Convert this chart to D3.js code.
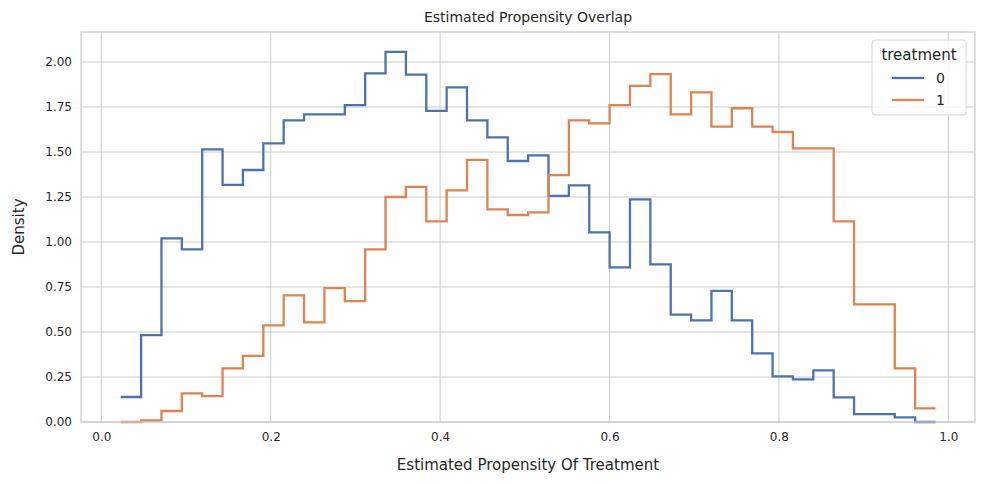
<!DOCTYPE html>
<html>
<head>
<meta charset="utf-8">
<script src="https://cdn.jsdelivr.net/npm/d3@7"></script>
<style>
  body { margin: 0; background: #fff; }
  text { font-family: "DejaVu Sans", sans-serif; fill: #262626; }
</style>
</head>
<body>
<div id="container"></div>
<script>
// histogram bins (shared edges)
var binStart = 0.0229, binWidth = 0.02405;
var density0 = [0.139, 0.483, 1.020, 0.959, 1.515, 1.317, 1.400, 1.548, 1.676, 1.709,
  1.709, 1.761, 1.937, 2.056, 1.930, 1.728, 1.859, 1.676, 1.581, 1.450,
  1.481, 1.256, 1.315, 1.054, 0.859, 1.237, 0.876, 0.596, 0.565, 0.728,
  0.565, 0.381, 0.254, 0.237, 0.287, 0.137, 0.044, 0.044, 0.026, 0];
var density1 = [0, 0.009, 0.061, 0.159, 0.144, 0.298, 0.367, 0.537, 0.704, 0.554,
  0.744, 0.672, 0.959, 1.250, 1.306, 1.115, 1.287, 1.456, 1.181, 1.150,
  1.165, 1.372, 1.676, 1.659, 1.761, 1.867, 1.933, 1.709, 1.831, 1.641,
  1.743, 1.641, 1.611, 1.520, 1.520, 1.115, 0.654, 0.654, 0.298, 0.076];
var groups = ["0", "1"];
var colors = ["#4c72b0", "#dd8452"];
var xTicks = [0, 0.2, 0.4, 0.6, 0.8, 1.0];
var yTicks = [0, 0.25, 0.5, 0.75, 1.0, 1.25, 1.5, 1.75, 2.0];

var margin = { top: 32, right: 9, bottom: 62, left: 81 };
var W = 984, H = 484;
var width = W - margin.left - margin.right, height = H - margin.top - margin.bottom;

var x = d3.scaleLinear().domain([-0.024, 1.0315]).range([0, width]);
var y = d3.scaleLinear().domain([0, 2.1667]).range([height, 0]);

var svg = d3.select("#container").append("svg").attr("width", W).attr("height", H);
var g = svg.append("g").attr("transform", "translate(" + margin.left + "," + margin.top + ")");

// grid
g.selectAll(".gx").data(xTicks).enter().append("line")
  .attr("x1", d => x(d)).attr("x2", d => x(d)).attr("y1", 0).attr("y2", height)
  .attr("stroke", "#cccccc").attr("stroke-width", 1);
g.selectAll(".gy").data(yTicks).enter().append("line")
  .attr("y1", d => y(d)).attr("y2", d => y(d)).attr("x1", 0).attr("x2", width)
  .attr("stroke", "#cccccc").attr("stroke-width", 1);

// axes labels
var xa = g.append("g").attr("transform", "translate(0," + height + ")")
  .call(d3.axisBottom(x).tickValues(xTicks).tickFormat(d3.format(".1f")).tickSize(0).tickPadding(10));
var ya = g.append("g")
  .call(d3.axisLeft(y).tickValues(yTicks).tickFormat(d3.format(".2f")).tickSize(0).tickPadding(9));
[xa, ya].forEach(a => {
  a.select(".domain").remove();
  a.selectAll("text").style("font-size", "12px").style("fill", "#262626")
    .style("font-family", "DejaVu Sans, sans-serif");
});

// step lines
var line = d3.line().x(d => x(d[0])).y(d => y(d[1])).curve(d3.curveStepAfter);
[density0, density1].forEach(function (vals, i) {
  var pts = vals.map((v, k) => [binStart + k * binWidth, v]);
  pts.push([binStart + vals.length * binWidth, vals[vals.length - 1]]);
  g.append("path").datum(pts).attr("d", line)
    .attr("fill", "none").attr("stroke", colors[i]).attr("stroke-width", 2.3);
});

// frame
g.append("rect").attr("width", width).attr("height", height)
  .attr("fill", "none").attr("stroke", "#cccccc").attr("stroke-width", 1.25);

// titles
svg.append("text").attr("x", margin.left + width / 2).attr("y", 22).attr("text-anchor", "middle")
  .style("font-size", "14px").text("Estimated Propensity Overlap");
svg.append("text").attr("x", margin.left + width / 2).attr("y", 470).attr("text-anchor", "middle")
  .style("font-size", "15px").text("Estimated Propensity Of Treatment");
svg.append("text").attr("transform", "translate(24," + (margin.top + height / 2) + ") rotate(-90)")
  .attr("text-anchor", "middle").style("font-size", "15px").text("Density");

// legend
var lg = svg.append("g").attr("transform", "translate(872,40)");
lg.append("rect").attr("width", 94).attr("height", 75).attr("rx", 3)
  .attr("fill", "white").attr("fill-opacity", 0.8).attr("stroke", "#d6d6d6");
lg.append("text").attr("x", 47).attr("y", 20).attr("text-anchor", "middle")
  .style("font-size", "15px").text("treatment");
groups.forEach(function (k, i) {
  lg.append("line").attr("x1", 20).attr("x2", 52).attr("y1", 38 + i * 22).attr("y2", 38 + i * 22)
    .attr("stroke", colors[i]).attr("stroke-width", 2.3);
  lg.append("text").attr("x", 64).attr("y", 43 + i * 22).style("font-size", "14px").text(k);
});
</script>
</body>
</html>
